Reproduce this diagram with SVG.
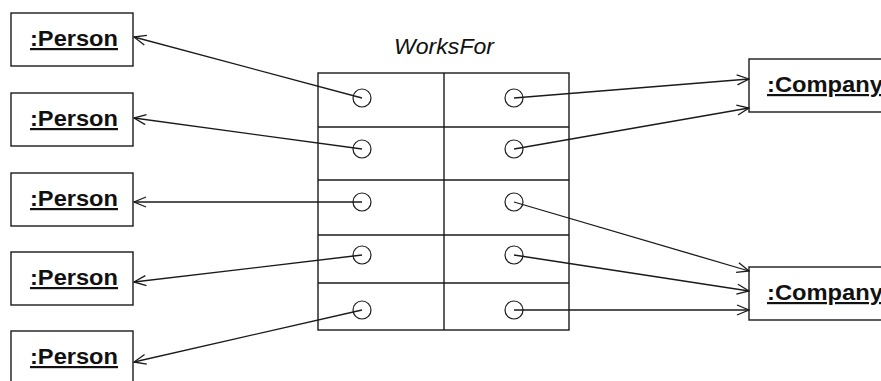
<svg xmlns="http://www.w3.org/2000/svg" width="881" height="381" viewBox="0 0 881 381">
  <style>
    .box { fill: #fff; stroke: #1a1a1a; stroke-width: 1.4; }
    .lbl { font-family: "Liberation Sans", Arial, sans-serif; font-weight: bold; font-size: 22px; fill: #111; text-decoration: underline; }
    .title { font-family: "Liberation Sans", Arial, sans-serif; font-style: italic; font-size: 22px; fill: #111; }
    .grid { fill: none; stroke: #1a1a1a; stroke-width: 1.4; }
    .port { fill: none; stroke: #1a1a1a; stroke-width: 1.2; }
    .link { fill: none; stroke: #1a1a1a; stroke-width: 1.3; marker-end: url(#open); }
  </style>
  <defs>
    <marker id="open" viewBox="0 0 14 12" refX="13" refY="6" markerWidth="14" markerHeight="12" markerUnits="userSpaceOnUse" orient="auto">
      <path d="M1,1 L13,6 L1,11" fill="none" stroke="#1a1a1a" stroke-width="1.3"/>
    </marker>
  </defs>

  <rect width="881" height="381" fill="#fff"/>

  <!-- WorksFor link object -->
  <g id="worksfor">
    <text class="title" x="444" y="54" text-anchor="middle" textLength="100" lengthAdjust="spacingAndGlyphs">WorksFor</text>
    <rect class="grid" x="318" y="73" width="251" height="257"/>
    <line class="grid" x1="444" y1="73" x2="444" y2="330"/>
    <line class="grid" x1="318" y1="127" x2="569" y2="127"/>
    <line class="grid" x1="318" y1="180" x2="569" y2="180"/>
    <line class="grid" x1="318" y1="235" x2="569" y2="235"/>
    <line class="grid" x1="318" y1="283" x2="569" y2="283"/>
  </g>

  <!-- Person objects -->
  <g id="person1">
    <rect class="box" x="11" y="13" width="122" height="53"/>
    <text class="lbl" x="30" y="46" textLength="88" lengthAdjust="spacingAndGlyphs">:Person</text>
  </g>
  <g id="person2">
    <rect class="box" x="11" y="93" width="122" height="53"/>
    <text class="lbl" x="30" y="126" textLength="88" lengthAdjust="spacingAndGlyphs">:Person</text>
  </g>
  <g id="person3">
    <rect class="box" x="11" y="173" width="122" height="53"/>
    <text class="lbl" x="30" y="206" textLength="88" lengthAdjust="spacingAndGlyphs">:Person</text>
  </g>
  <g id="person4">
    <rect class="box" x="11" y="252" width="122" height="53"/>
    <text class="lbl" x="30" y="285" textLength="88" lengthAdjust="spacingAndGlyphs">:Person</text>
  </g>
  <g id="person5">
    <rect class="box" x="11" y="331" width="122" height="60"/>
    <text class="lbl" x="30" y="364" textLength="88" lengthAdjust="spacingAndGlyphs">:Person</text>
  </g>

  <!-- Company objects -->
  <g id="company1">
    <rect class="box" x="749" y="59" width="150" height="53"/>
    <text class="lbl" x="767" y="92" textLength="116" lengthAdjust="spacingAndGlyphs">:Company</text>
  </g>
  <g id="company2">
    <rect class="box" x="749" y="267" width="150" height="53"/>
    <text class="lbl" x="767" y="300" textLength="116" lengthAdjust="spacingAndGlyphs">:Company</text>
  </g>

  <!-- Links from slots to objects -->
  <g id="connectors">
    <line class="link" x1="362" y1="98" x2="134" y2="37"/>
    <line class="link" x1="362" y1="149" x2="134" y2="118"/>
    <line class="link" x1="362" y1="202" x2="134" y2="202"/>
    <line class="link" x1="362" y1="255" x2="134" y2="282"/>
    <line class="link" x1="362" y1="310" x2="134" y2="362"/>
    <line class="link" x1="514" y1="98" x2="749" y2="79"/>
    <line class="link" x1="514" y1="149" x2="749" y2="108"/>
    <line class="link" x1="514" y1="202" x2="749" y2="271"/>
    <line class="link" x1="514" y1="255" x2="749" y2="291"/>
    <line class="link" x1="514" y1="310" x2="749" y2="310"/>
  </g>

  <!-- Slot ports -->
  <g id="ports">
    <circle class="port" cx="362" cy="98" r="9"/>
    <circle class="port" cx="362" cy="149" r="9"/>
    <circle class="port" cx="362" cy="202" r="9"/>
    <circle class="port" cx="362" cy="255" r="9"/>
    <circle class="port" cx="362" cy="310" r="9"/>
    <circle class="port" cx="514" cy="98" r="9"/>
    <circle class="port" cx="514" cy="149" r="9"/>
    <circle class="port" cx="514" cy="202" r="9"/>
    <circle class="port" cx="514" cy="255" r="9"/>
    <circle class="port" cx="514" cy="310" r="9"/>
  </g>
</svg>
